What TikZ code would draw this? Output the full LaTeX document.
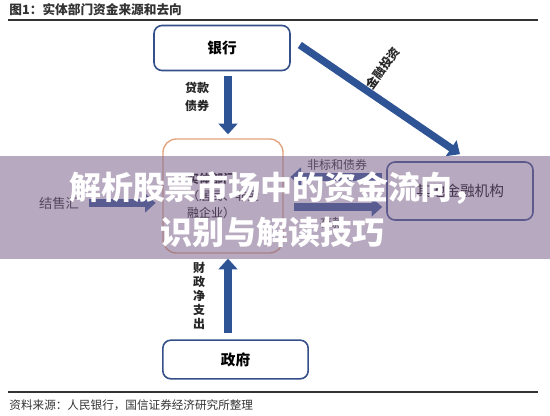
\documentclass[tikz,border=0pt]{standalone}
\usepackage{fontspec}
\setmainfont{Noto Sans CJK SC}
\usetikzlibrary{arrows.meta}

\definecolor{flowblue}{RGB}{47,84,150}
\definecolor{boxblue}{RGB}{52,79,137}
\definecolor{peach}{RGB}{226,162,124}
\definecolor{veil}{RGB}{124,100,140}
\definecolor{inkgray}{RGB}{51,51,51}

\tikzset{every picture/.style={line width=0.75pt}}
\tikzset{
  box/.style={draw=boxblue, line width=1.2pt, rounded corners=6pt, fill=white, inner sep=0pt, font=\bfseries\fontsize{11}{13}\selectfont},
  flow/.style={draw=flowblue, line width=5.5pt, -{Triangle[length=8pt,width=14pt]}},
  lbl/.style={inner sep=0.75pt, font=\fontsize{9}{11}\selectfont, text=black!85},
  veiltext/.style={inner sep=0pt, text=white, font=\bfseries\fontsize{24}{28}\selectfont},
}

\begin{document}
\begin{tikzpicture}[x=0.75pt,y=0.75pt,yscale=-1,xscale=1]
\useasboundingbox (0,0) rectangle (550,416);

% Title Node
\draw (8,10) node [anchor=west][inner sep=0.75pt][text=inkgray, font=\bfseries\fontsize{9.5}{11}\selectfont] (title) {图1：实体部门资金来源和去向};
\draw [color=inkgray, line width=0.8pt] (8,20) -- (538,20) ;

%Rounded Rect [id:bank]
\draw (222,48) node [box, minimum width=102pt, minimum height=33.75pt] (bank) {银行};
%Rounded Rect [id:entity]
\draw (223,196) node [box, draw=peach, line width=1pt, rounded corners=10pt, minimum width=90pt, minimum height=85.5pt, font=\fontsize{9}{12.5}\selectfont, align=left] (entity) {{\bfseries 实体部门}\\（居民、非金\\融企业）};
%Rounded Rect [id:other]
\draw (460,191) node [box, minimum width=109.5pt, minimum height=43.5pt, font=\fontsize{11}{13}\selectfont] (other) {其他金融机构};
%Rounded Rect [id:gov]
\draw (235.5,359.5) node [box, minimum width=109pt, minimum height=29pt] (gov) {政府};

\coordinate (axis) at (228,0) ;
\coordinate (upper) at (0,177) ;
\coordinate (lower) at (0,207) ;

%Block Arrows
\draw [flow, shorten <=3.75pt, shorten >=3pt] (axis |- bank.south) -- (axis |- entity.north) ;
\draw [flow, shorten <=5pt, shorten >=3.75pt] (axis |- gov.north) -- (axis |- entity.south) ;
\draw [flow] ([shift={(9,-3)}]bank.east) -- ([shift={(0,-7)}]other.north) ;
\draw [flow, shorten <=3pt, shorten >=5pt] (other.west |- upper) -- (entity.east |- upper) ;
\draw [flow, shorten <=8pt, shorten >=3pt] (entity.east |- lower) -- (other.west |- lower) ;

% Text Node
\draw (59,203) node [lbl, font=\fontsize{10}{12}\selectfont] (fx) {结售汇};
\draw [flow, shorten <=6pt, shorten >=5pt] (fx.east) -- (entity.west |- fx.east) ;

% Text Node
\draw (197,97) node [lbl, font=\bfseries\fontsize{9}{13}\selectfont, align=center] (loan) {贷款\\债券};
% Text Node
\draw (383,68) node [lbl, font=\bfseries\fontsize{9}{11}\selectfont, rotate=54] (invest) {金融投资};
% Text Node
\draw (337,165) node [lbl] (nonstd) {非标和债券};
% Text Node
\draw (332,223) node [lbl] (deposit) {存款};
% Text Node
\draw (199,296) node [lbl, font=\bfseries\fontsize{9}{10.5}\selectfont, align=center] (fiscal) {财\\政\\净\\支\\出};

% Footer
\draw [color=inkgray, line width=0.8pt] (8,392) -- (538,392) ;
\draw (8,405) node [anchor=west][inner sep=0.75pt][text=inkgray, font=\fontsize{8.7}{10}\selectfont] (source) {资料来源：人民银行，国信证券经济研究所整理};

% Veil band
\fill [veil, fill opacity=0.55] (0,156) rectangle (550,259) ;
\draw (277,188) node [veiltext] (head1) {解析股票市场中的资金流向，};
\draw (272,232) node [veiltext] (head2) {识别与解读技巧};
\end{tikzpicture}
\end{document}
